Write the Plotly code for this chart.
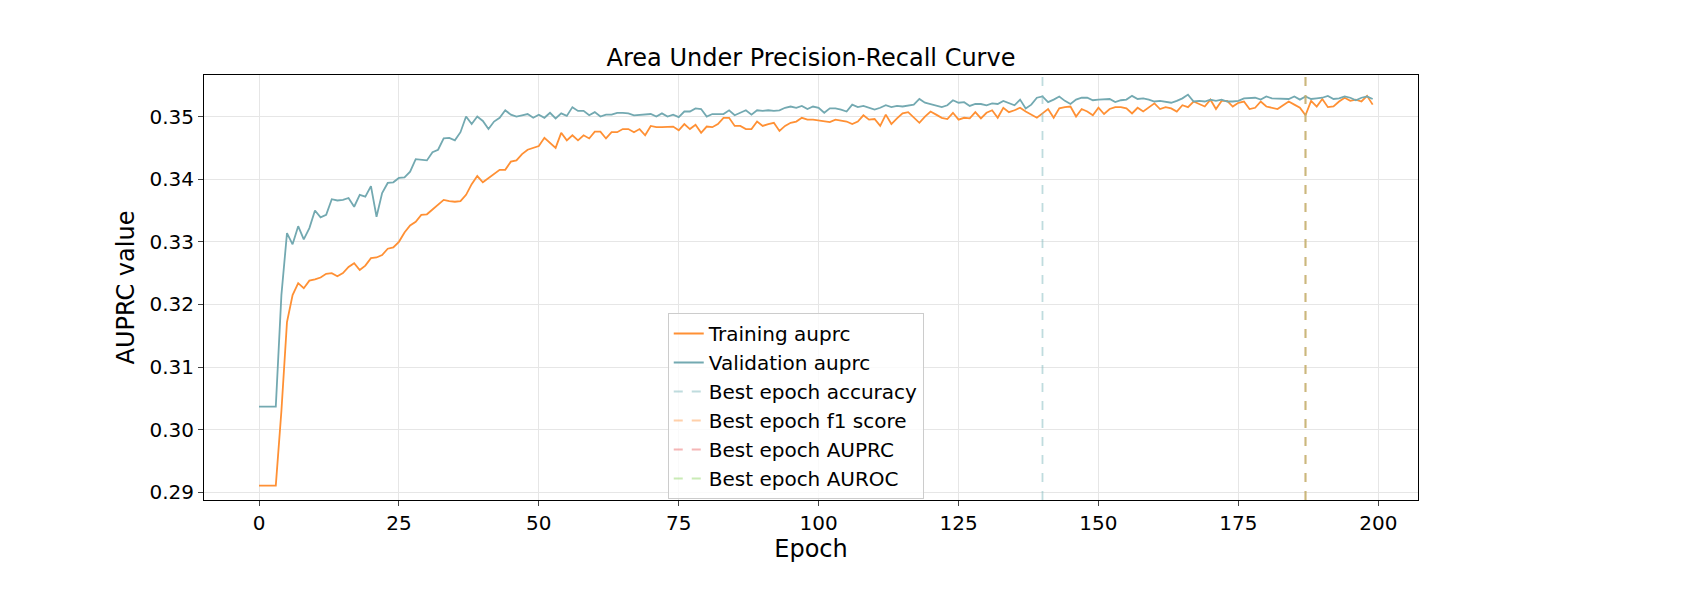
import plotly.graph_objects as go

train_auprc = [
    0.2911, 0.2911, 0.2911, 0.2911, 0.303, 0.3172, 0.3215, 0.3234, 0.3226, 0.3238,
    0.324, 0.3243, 0.3249, 0.325, 0.3245, 0.325, 0.326, 0.3266, 0.3255, 0.3262,
    0.3274, 0.3275, 0.3279, 0.3289, 0.3291, 0.33, 0.3315, 0.3326, 0.3332, 0.3343,
    0.3344, 0.3352, 0.336, 0.3367, 0.3365, 0.3364, 0.3365, 0.3375, 0.3392, 0.3405,
    0.3395, 0.3402, 0.3408, 0.3415, 0.3415, 0.3428, 0.343, 0.344, 0.3447, 0.345,
    0.3453, 0.3466, 0.3458, 0.345, 0.3474, 0.3462, 0.347, 0.3462, 0.347, 0.3465,
    0.3476, 0.3476, 0.3465, 0.3475, 0.3475, 0.348, 0.348, 0.3475, 0.348, 0.347,
    0.3485, 0.3483, 0.3483, 0.3484, 0.3484, 0.3478, 0.3488, 0.348, 0.3487, 0.3474,
    0.3484, 0.3483, 0.3488, 0.3498, 0.3498, 0.3485, 0.3485, 0.348, 0.348, 0.3492,
    0.3485, 0.3488, 0.349, 0.3477, 0.3485, 0.349, 0.3492, 0.3498, 0.3495, 0.3495,
    0.3494, 0.3492, 0.3491, 0.3495, 0.3494, 0.3492, 0.3488, 0.3492, 0.3502, 0.3495,
    0.3496, 0.3485, 0.3503, 0.3488, 0.3497, 0.3505, 0.3507, 0.3498, 0.349, 0.35,
    0.3508, 0.3503, 0.3498, 0.3496, 0.3506, 0.3495, 0.3498, 0.3497, 0.3507, 0.3497,
    0.3506, 0.351, 0.3498, 0.3514, 0.3507, 0.351, 0.3514, 0.3508, 0.3503, 0.3498,
    0.3505, 0.3512, 0.3498, 0.3513, 0.3515, 0.3516, 0.35, 0.3512, 0.3508, 0.3502,
    0.3514, 0.3504, 0.3512, 0.3515, 0.3515, 0.3513, 0.3505, 0.3514, 0.3508, 0.3515,
    0.3521, 0.3512, 0.3515, 0.3513, 0.3508, 0.3518, 0.3515, 0.3524, 0.352, 0.3516,
    0.3527, 0.3512, 0.3525, 0.3525, 0.3516, 0.3522, 0.3524, 0.3512, 0.3514, 0.3524,
    0.3516, 0.3514, 0.3512, 0.3518, 0.3524, 0.3519, 0.3514, 0.3502, 0.3525, 0.3516,
    0.3528, 0.3515, 0.3516, 0.3524, 0.353, 0.3525, 0.3527, 0.3524, 0.3533, 0.3519,
]

val_auprc = [
    0.3037, 0.3037, 0.3037, 0.3037, 0.3215, 0.3314, 0.3296, 0.3325, 0.3304, 0.3322,
    0.335, 0.3339, 0.3343, 0.3368, 0.3366, 0.3367, 0.337, 0.3356, 0.3375, 0.3372,
    0.3389, 0.334, 0.3378, 0.3394, 0.3395, 0.3402, 0.3403, 0.3412, 0.3432, 0.3431,
    0.343, 0.3443, 0.3447, 0.3465, 0.3466, 0.3462, 0.3475, 0.35, 0.3488, 0.35,
    0.3493, 0.348, 0.3492, 0.3498, 0.351, 0.3503, 0.35, 0.3502, 0.3504, 0.3498,
    0.3503, 0.3498, 0.3506, 0.3497, 0.3505, 0.3501, 0.3515, 0.3509, 0.3509, 0.3502,
    0.3507, 0.35, 0.3503, 0.3503, 0.3506, 0.3506, 0.3505, 0.3502, 0.3503, 0.3503,
    0.3504, 0.35, 0.3505, 0.35, 0.3503, 0.3499, 0.3508, 0.3508, 0.3513, 0.3512,
    0.35, 0.3504, 0.3504, 0.3504, 0.351, 0.3502, 0.3506, 0.351, 0.3503, 0.351,
    0.3509, 0.351, 0.3509, 0.351, 0.3514, 0.3516, 0.3514, 0.3517, 0.3512, 0.3516,
    0.3514, 0.3506, 0.3513, 0.3513, 0.3511, 0.3508, 0.3519, 0.3515, 0.3517, 0.3514,
    0.3511, 0.3514, 0.3518, 0.3515, 0.3517, 0.3516, 0.3517, 0.3519, 0.3528, 0.3522,
    0.352, 0.3518, 0.3515, 0.3518, 0.3526, 0.3522, 0.3523, 0.3517, 0.352, 0.352,
    0.3518, 0.3521, 0.352, 0.3525, 0.3522, 0.3518, 0.3527, 0.3513, 0.3519, 0.353,
    0.3532, 0.3523, 0.3527, 0.3532, 0.3525, 0.352, 0.3527, 0.353, 0.353, 0.3526,
    0.3527, 0.3528, 0.3528, 0.3523, 0.3526, 0.3527, 0.3533, 0.3528, 0.3529, 0.3527,
    0.3524, 0.3525, 0.3524, 0.3522, 0.3525, 0.3529, 0.3535, 0.3524, 0.3525, 0.3524,
    0.3527, 0.3525, 0.3527, 0.3524, 0.3524, 0.3525, 0.3529, 0.3529, 0.353, 0.3527,
    0.3532, 0.3529, 0.3529, 0.3529, 0.3528, 0.3532, 0.3527, 0.3532, 0.3528, 0.3529,
    0.353, 0.3533, 0.3528, 0.3529, 0.3532, 0.353, 0.3526, 0.353, 0.3532, 0.3528,
]

epochs = list(range(len(train_auprc)))

best_names = ["Best epoch accuracy", "Best epoch f1 score", "Best epoch AUPRC", "Best epoch AUROC"]
best_epochs = [140, 187, 187, 187]
best_colors = ["rgba(127,185,190,0.5)", "rgba(255,170,100,0.55)",
               "rgba(235,110,110,0.5)", "rgba(150,215,110,0.5)"]

y_range = [0.28879, 0.35663]
x_range = [-9.83, 207.1]

fig = go.Figure()
fig.add_trace(go.Scatter(x=epochs, y=train_auprc, mode="lines", name="Training auprc",
                         line=dict(color="#ff9034", width=1.8)))
fig.add_trace(go.Scatter(x=epochs, y=val_auprc, mode="lines", name="Validation auprc",
                         line=dict(color="#73a9b1", width=1.8)))
for name, ep, col in zip(best_names, best_epochs, best_colors):
    fig.add_trace(go.Scatter(x=[ep, ep], y=y_range, mode="lines", name=name,
                             line=dict(color=col, width=1.8, dash="dash")))

fig.update_layout(
    width=1700, height=600,
    paper_bgcolor="white", plot_bgcolor="white",
    font=dict(family="DejaVu Sans", size=20, color="black"),
    title=dict(text="Area Under Precision-Recall Curve", x=0.5 * (196 + 1410) / 1700,
               xanchor="center", y=1 - 50 / 600, yanchor="middle", font=dict(size=24)),
    margin=dict(l=196, r=290, t=67, b=108),
    legend=dict(x=0.382, y=0.44, xanchor="left", yanchor="top",
                bordercolor="#cccccc", borderwidth=1, bgcolor="rgba(255,255,255,0.8)",
                font=dict(size=20)),
)
fig.update_xaxes(range=x_range, tickvals=[0, 25, 50, 75, 100, 125, 150, 175, 200],
                 showgrid=True, gridcolor="#e6e6e6", zeroline=False,
                 showline=True, linecolor="black", mirror=True, ticks="outside",
                 title=dict(text="Epoch", standoff=2))
fig.update_yaxes(range=y_range, tickvals=[0.29, 0.30, 0.31, 0.32, 0.33, 0.34, 0.35],
                 tickformat=".2f", showgrid=True, gridcolor="#e6e6e6", zeroline=False,
                 showline=True, linecolor="black", mirror=True, ticks="outside",
                 title=dict(text="AUPRC value", standoff=8))

fig.write_html("out.html")
